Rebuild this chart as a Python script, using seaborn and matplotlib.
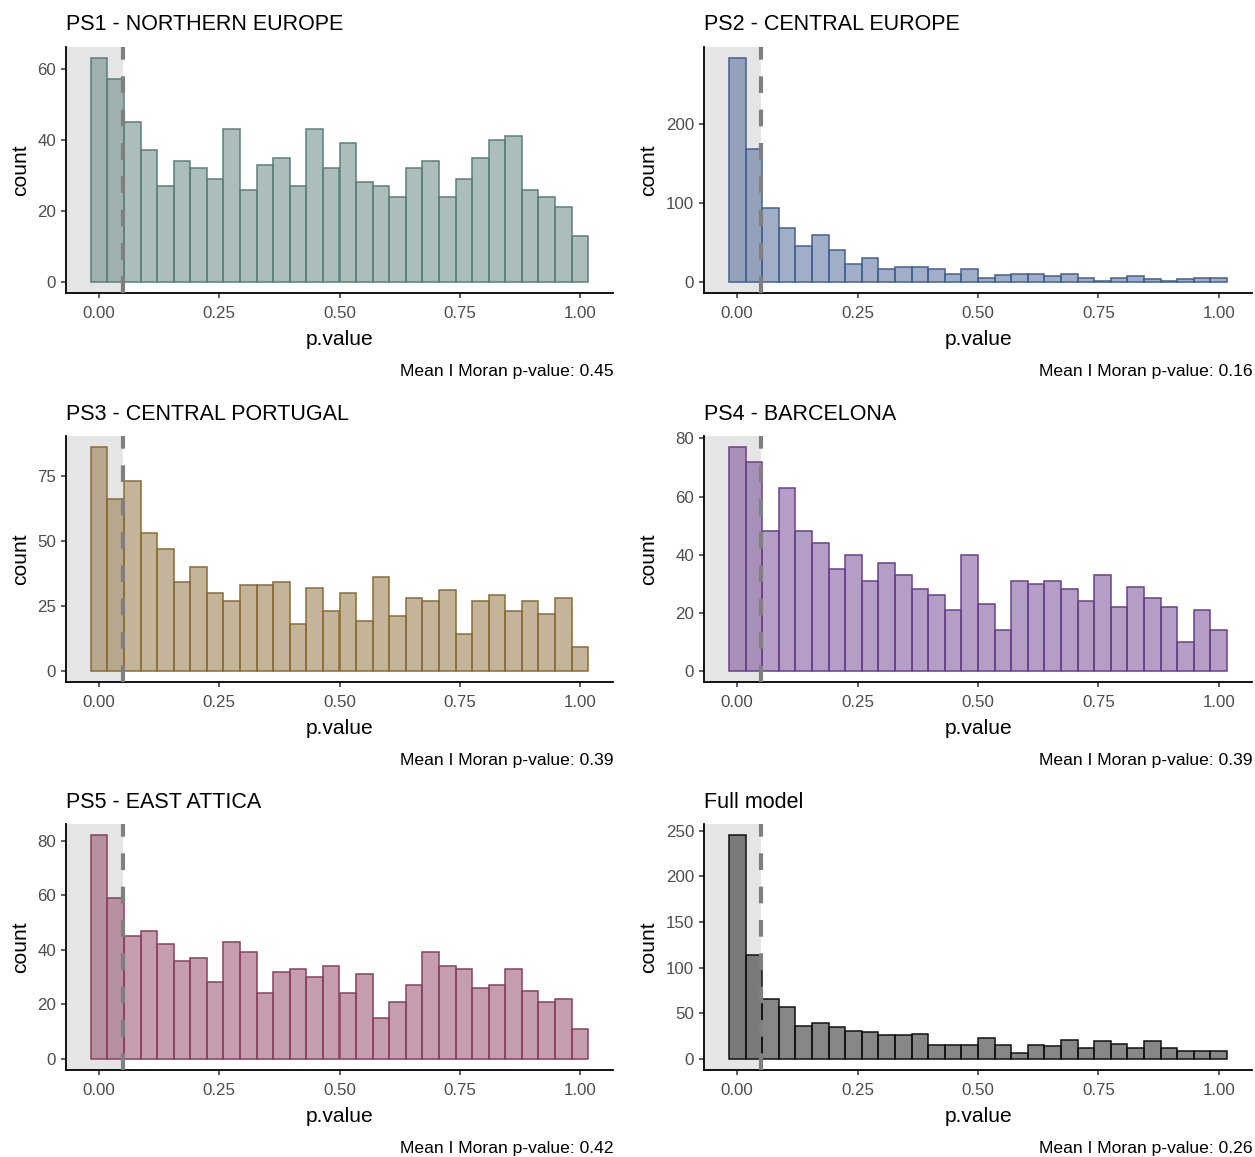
import numpy as np
import pandas as pd
import matplotlib
matplotlib.use("Agg")
import matplotlib.pyplot as plt
from matplotlib.colors import to_rgba
import seaborn as sns

# ---------------- data ----------------
titles = ["PS1 - NORTHERN EUROPE", "PS2 - CENTRAL EUROPE", "PS3 - CENTRAL PORTUGAL",
          "PS4 - BARCELONA", "PS5 - EAST ATTICA", "Full model"]
mean_pvals = ["0.45", "0.16", "0.39", "0.39", "0.42", "0.26"]

ps1 = [63, 57, 45, 37, 27, 34, 32, 29, 43, 26, 33, 35, 27, 43, 32, 39, 28, 27, 24, 32,
       34, 24, 29, 35, 40, 41, 26, 24, 21, 13]
ps2 = [283, 168, 93, 68, 45, 59, 40, 22, 30, 16, 19, 19, 16, 10, 16, 5, 8, 10, 10, 7,
       10, 5, 1, 5, 7, 4, 1, 4, 5, 5]
ps3 = [86, 66, 73, 53, 47, 34, 40, 30, 27, 33, 33, 34, 18, 32, 23, 30, 19, 36, 21, 28,
       27, 31, 14, 27, 29, 23, 27, 22, 28, 9]
ps4 = [77, 72, 48, 63, 48, 44, 35, 40, 31, 37, 33, 28, 26, 21, 40, 23, 14, 31, 30, 31,
       28, 24, 33, 22, 29, 25, 22, 10, 21, 14]
ps5 = [82, 59, 45, 47, 42, 36, 37, 28, 43, 39, 24, 32, 33, 30, 34, 24, 31, 15, 21, 27,
       39, 34, 33, 26, 27, 33, 25, 21, 22, 11]
full = [245, 114, 65, 57, 36, 39, 35, 30, 29, 26, 26, 27, 15, 15, 15, 23, 15, 6, 15, 14,
        21, 12, 19, 16, 12, 19, 12, 9, 9, 9]
series = [ps1, ps2, ps3, ps4, ps5, full]

y_ticks = [[0, 20, 40, 60], [0, 100, 200], [0, 25, 50, 75], [0, 20, 40, 60, 80],
           [0, 20, 40, 60, 80], [0, 50, 100, 150, 200, 250]]
x_ticks = [0.0, 0.25, 0.5, 0.75, 1.0]
x_ticklabels = ["0.00", "0.25", "0.50", "0.75", "1.00"]
threshold = 0.05
n_bins = 30

colors = ["#5B7F7B", "#426190", "#8B6B35", "#6B3F8C", "#8A3F5E", "#111111"]

# ---------------- style ----------------
sns.set_style("ticks")
plt.rcParams["font.family"] = ["Liberation Sans", "DejaVu Sans"]

W, H = 1255, 1157
fig = plt.figure(figsize=(W / 100, H / 100), dpi=100)

col_l = [66, 704]
col_r = [613, 1252]
row_t = [47, 436, 824]
row_b = [293, 682, 1070]
ylabel_x = [-0.0658, -0.0839]

bw = 1.0 / (n_bins - 1)
centers = np.arange(n_bins) * bw
lo_edge = -bw / 2
hi_edge = 1 + bw / 2

for i, vals in enumerate(series):
    r, c = divmod(i, 2)
    l, rr, t, b = col_l[c], col_r[c], row_t[r], row_b[r]
    ax = fig.add_axes([l / W, 1 - b / H, (rr - l) / W, (b - t) / H])
    base = colors[i]

    xlo = lo_edge - 0.05 * (hi_edge - lo_edge)
    xhi = hi_edge + 0.05 * (hi_edge - lo_edge)
    ax.axvspan(xlo - 1, threshold, color="#E5E5E5", lw=0, zorder=0)

    df = pd.DataFrame({"p": centers, "n": np.asarray(vals, dtype=float)})
    n_before = len(ax.patches)
    sns.histplot(data=df, x="p", weights="n", bins=n_bins,
                 binrange=(lo_edge, hi_edge), ax=ax, color=base,
                 edgecolor=base, linewidth=1.1, zorder=2)
    for p in ax.patches[n_before:]:
        p.set_alpha(None)
        p.set_facecolor(to_rgba(base, 0.5))
        p.set_edgecolor(base)

    ax.axvline(threshold, color="#7F7F7F", lw=3.0, ls=(0, (4, 4)), zorder=3)

    ymax = max(vals)
    ax.set_xlim(xlo, xhi)
    ax.set_ylim(-0.05 * ymax, ymax * 1.05)
    ax.set_xticks(x_ticks)
    ax.set_xticklabels(x_ticklabels)
    ax.set_yticks(y_ticks[i])
    ax.set_yticklabels([str(v) for v in y_ticks[i]])

    for s in ["top", "right"]:
        ax.spines[s].set_visible(False)
    for s in ["left", "bottom"]:
        ax.spines[s].set_color("black")
        ax.spines[s].set_linewidth(1.3)
    ax.tick_params(axis="both", length=3.6, width=1.1, color="#333333",
                   labelcolor="#4D4D4D", labelsize=12.2)
    ax.tick_params(axis="x", pad=6)
    ax.tick_params(axis="y", pad=3.5)

    ax.set_xlabel("p.value", fontsize=15.1, color="black")
    ax.set_ylabel("count", fontsize=15.1, color="black")
    ax.xaxis.set_label_coords(0.5, -0.152)
    ax.yaxis.set_label_coords(ylabel_x[c], 0.5)
    ax.grid(False)

    fig.text(l / W, 1 - 25 / H - r * 389 / H, titles[i], fontsize=15.5,
             color="black", ha="left", va="center")
    fig.text((rr + 1) / W, 1 - 371 / H - r * 389 / H,
             "Mean I Moran p-value: " + mean_pvals[i], fontsize=12.6,
             color="black", ha="right", va="center")

fig.savefig("out.png", dpi=100, facecolor="white")
